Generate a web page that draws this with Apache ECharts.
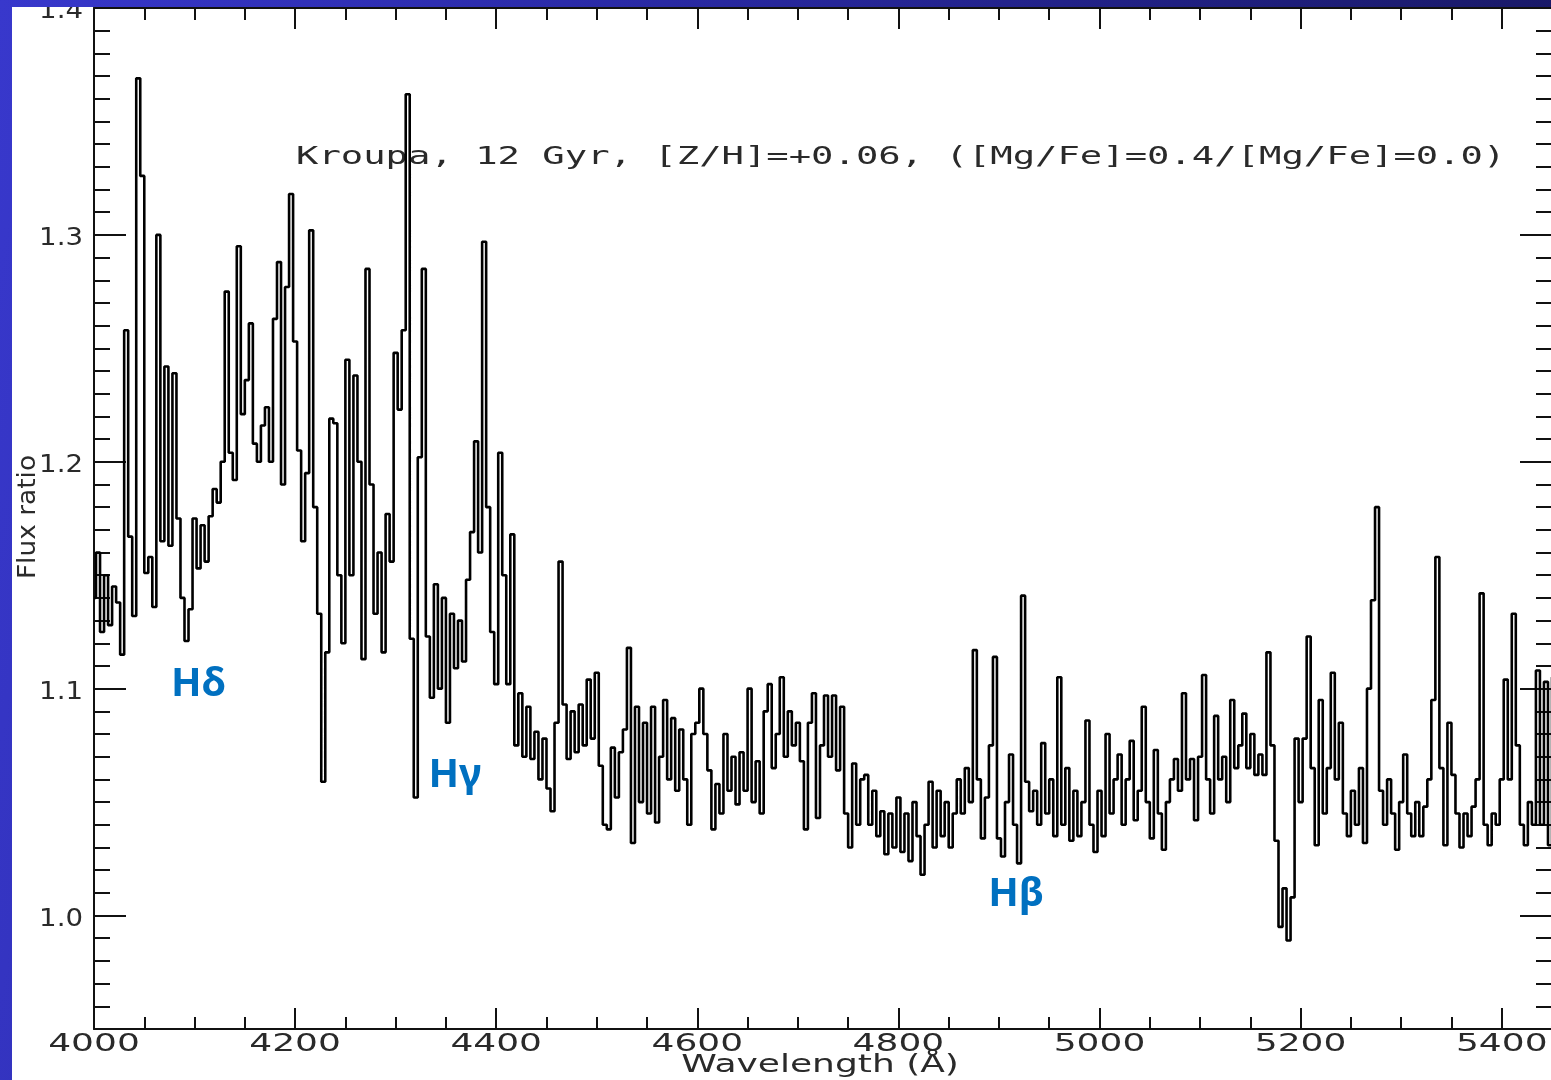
<!DOCTYPE html>
<html>
<head>
<meta charset="utf-8">
<title>Flux ratio</title>
<script src="https://cdn.jsdelivr.net/npm/echarts@6/dist/echarts.min.js"></script>
<style>
  html, body {
    margin: 0; padding: 0; width: 1551px; height: 1080px; overflow: hidden;
    background: linear-gradient(100deg, #3838cc 0%, #2a2aa6 35%, #16165c 100%);
  }
  #chart { position: absolute; left: 12px; top: 7px; width: 1560px; height: 1073px; background: #fff; }
</style>
</head>
<body>
<div id="chart"></div>
<script>
// flux ratio, one value every 4 A from 4000 A
const waveStart = 4000;
const waveStep = 4;
const fluxRatio = [
  1.140, 1.160, 1.125, 1.150, 1.128, 1.145, 1.138, 1.115, 1.258, 1.167, // 4000
  1.132, 1.369, 1.326, 1.151, 1.158, 1.136, 1.300, 1.165, 1.242, 1.163, // 4040
  1.239, 1.175, 1.140, 1.121, 1.135, 1.175, 1.153, 1.172, 1.156, 1.176, // 4080
  1.188, 1.182, 1.200, 1.275, 1.204, 1.192, 1.295, 1.221, 1.236, 1.261, // 4120
  1.208, 1.200, 1.216, 1.224, 1.200, 1.263, 1.288, 1.190, 1.277, 1.318, // 4160
  1.253, 1.205, 1.165, 1.195, 1.302, 1.180, 1.133, 1.059, 1.116, 1.219, // 4200
  1.217, 1.150, 1.120, 1.245, 1.150, 1.238, 1.200, 1.113, 1.285, 1.190, // 4240
  1.133, 1.160, 1.116, 1.177, 1.156, 1.248, 1.223, 1.258, 1.362, 1.122, // 4280
  1.052, 1.202, 1.285, 1.123, 1.096, 1.146, 1.100, 1.140, 1.085, 1.133, // 4320
  1.109, 1.130, 1.112, 1.148, 1.169, 1.209, 1.160, 1.297, 1.180, 1.125, // 4360
  1.102, 1.204, 1.150, 1.102, 1.168, 1.075, 1.098, 1.070, 1.092, 1.069, // 4400
  1.081, 1.060, 1.078, 1.056, 1.046, 1.085, 1.156, 1.093, 1.069, 1.090, // 4440
  1.072, 1.093, 1.075, 1.104, 1.078, 1.107, 1.066, 1.040, 1.038, 1.074, // 4480
  1.052, 1.072, 1.082, 1.118, 1.032, 1.092, 1.050, 1.085, 1.045, 1.092, // 4520
  1.041, 1.070, 1.095, 1.060, 1.087, 1.055, 1.082, 1.060, 1.040, 1.080, // 4560
  1.085, 1.100, 1.080, 1.064, 1.038, 1.058, 1.045, 1.080, 1.055, 1.070, // 4600
  1.049, 1.072, 1.055, 1.100, 1.050, 1.068, 1.045, 1.090, 1.102, 1.065, // 4640
  1.080, 1.105, 1.070, 1.090, 1.075, 1.085, 1.068, 1.038, 1.085, 1.098, // 4680
  1.043, 1.075, 1.097, 1.070, 1.097, 1.064, 1.092, 1.045, 1.030, 1.067, // 4720
  1.040, 1.060, 1.062, 1.040, 1.055, 1.035, 1.046, 1.027, 1.045, 1.030, // 4760
  1.052, 1.028, 1.045, 1.024, 1.050, 1.035, 1.018, 1.040, 1.059, 1.030, // 4800
  1.055, 1.035, 1.050, 1.030, 1.045, 1.060, 1.045, 1.065, 1.050, 1.117, // 4840
  1.060, 1.034, 1.052, 1.075, 1.114, 1.034, 1.026, 1.050, 1.071, 1.040, // 4880
  1.023, 1.141, 1.059, 1.046, 1.055, 1.040, 1.076, 1.045, 1.060, 1.035, // 4920
  1.105, 1.040, 1.065, 1.033, 1.055, 1.035, 1.050, 1.086, 1.040, 1.028, // 4960
  1.055, 1.035, 1.080, 1.045, 1.060, 1.071, 1.040, 1.060, 1.077, 1.042, // 5000
  1.055, 1.092, 1.050, 1.034, 1.073, 1.045, 1.029, 1.050, 1.060, 1.069, // 5040
  1.055, 1.098, 1.060, 1.069, 1.042, 1.070, 1.106, 1.060, 1.045, 1.088, // 5080
  1.060, 1.070, 1.050, 1.095, 1.065, 1.075, 1.089, 1.065, 1.080, 1.062, // 5120
  1.071, 1.062, 1.116, 1.075, 1.033, 0.995, 1.012, 0.989, 1.008, 1.078, // 5160
  1.050, 1.078, 1.123, 1.065, 1.031, 1.095, 1.045, 1.065, 1.107, 1.060, // 5200
  1.085, 1.045, 1.035, 1.055, 1.040, 1.065, 1.032, 1.100, 1.139, 1.180, // 5240
  1.055, 1.040, 1.060, 1.045, 1.029, 1.050, 1.071, 1.045, 1.035, 1.050, // 5280
  1.035, 1.048, 1.060, 1.095, 1.158, 1.065, 1.031, 1.085, 1.062, 1.045, // 5320
  1.030, 1.045, 1.035, 1.048, 1.060, 1.142, 1.040, 1.031, 1.045, 1.040, // 5360
  1.060, 1.104, 1.060, 1.133, 1.075, 1.040, 1.031, 1.050, 1.040, 1.108, // 5400
  1.040, 1.103, 1.031, 1.105                                              // 5440
];

const xTickLabels = [4000, 4200, 4400, 4600, 4800, 5000, 5200, 5400];
const yTickLabels = [1.0, 1.1, 1.2, 1.3, 1.4];

// Balmer line labels (blue)
const lineNames = ['Hδ', 'Hγ', 'Hβ'];
const lineWave = [4104, 4359, 4917];
const lineFlux = [1.102, 1.0615, 1.0093];

const panelText = 'Kroupa, 12 Gyr, [Z/H]=+0.06, ([Mg/Fe]=0.4/[Mg/Fe]=0.0)';
const xTitle = 'Wavelength (Å)';
const yTitle = 'Flux ratio';

const xMin = 4000, xMax = 5450;
const yMin = 0.95, yMax = 1.4;
const ink = '#111';
const textInk = '#2a2a2a';

const chart = echarts.init(document.getElementById('chart'), null, { renderer: 'canvas' });

const tickStyle = { color: ink, width: 2 };
const xAxisBase = {
  type: 'value', min: xMin, max: xMax, splitLine: { show: false },
  axisLabel: { show: false }, axisLine: { show: false }
};
const yAxisBase = {
  type: 'value', min: yMin, max: yMax, splitLine: { show: false },
  axisLabel: { show: false }, axisLine: { show: false }
};

const option = {
  animation: false,
  backgroundColor: '#fff',
  grid: { left: 82, right: 20, top: 1, bottom: 51 },
  xAxis: [
    { ...xAxisBase, position: 'bottom', interval: 200,
      axisLine: { show: true, lineStyle: tickStyle },
      axisTick: { inside: true, length: 21, lineStyle: tickStyle } },
    { ...xAxisBase, position: 'bottom', interval: 50,
      axisTick: { inside: true, length: 12, lineStyle: tickStyle } },
    { ...xAxisBase, position: 'top', interval: 200,
      axisLine: { show: true, lineStyle: tickStyle },
      axisTick: { inside: true, length: 21, lineStyle: tickStyle } },
    { ...xAxisBase, position: 'top', interval: 50,
      axisTick: { inside: true, length: 12, lineStyle: tickStyle } }
  ],
  yAxis: [
    { ...yAxisBase, position: 'left',
      axisLine: { show: true, lineStyle: tickStyle },
      axisTick: { inside: true, length: 32, lineStyle: tickStyle, customValues: yTickLabels } },
    { ...yAxisBase, position: 'left', interval: 0.01,
      axisTick: { inside: true, length: 16, lineStyle: tickStyle } },
    { ...yAxisBase, position: 'right',
      axisLine: { show: true, lineStyle: tickStyle },
      axisTick: { inside: true, length: 32, lineStyle: tickStyle, customValues: yTickLabels } },
    { ...yAxisBase, position: 'right', interval: 0.01,
      axisTick: { inside: true, length: 16, lineStyle: tickStyle } }
  ],
  series: [
    {
      type: 'line',
      xAxisIndex: 0, yAxisIndex: 0,
      step: 'middle',
      symbol: 'none',
      lineStyle: { color: '#000', width: 2.6 },
      data: fluxRatio.map((f, i) => [waveStart + i * waveStep, f])
    },
    {
      type: 'scatter',
      xAxisIndex: 0, yAxisIndex: 0,
      symbolSize: 1,
      itemStyle: { color: 'transparent', opacity: 1 },
      label: {
        show: true, position: 'inside', formatter: '{b}',
        color: '#0070c0', fontSize: 40, fontWeight: 'bold', fontFamily: 'Noto Sans'
      },
      data: lineNames.map((n, i) => ({ name: n, value: [lineWave[i], lineFlux[i]] }))
    }
  ]
};

chart.setOption(option);

// tick labels and titles drawn as stretched text to mimic the wide plotting font
const labelFont = '24px "DejaVu Sans"';
const texts = [];
xTickLabels.forEach(v => {
  const p = chart.convertToPixel({ xAxisIndex: 0, yAxisIndex: 0 }, [v, yMin]);
  texts.push({
    type: 'text', x: p[0], y: p[1] + 4, scaleX: 1.5, silent: true,
    style: { text: String(v), font: labelFont, fill: textInk, align: 'center', verticalAlign: 'top' }
  });
});
yTickLabels.forEach(v => {
  const p = chart.convertToPixel({ xAxisIndex: 0, yAxisIndex: 0 }, [xMin, v]);
  texts.push({
    type: 'text', x: p[0] - 11, y: p[1] + 4, scaleX: 1.15, silent: true,
    style: { text: v.toFixed(1), font: labelFont, fill: textInk, align: 'right', verticalAlign: 'middle' }
  });
});
texts.push({
  type: 'text', x: 808, y: 1059, scaleX: 1.5, silent: true,
  style: { text: xTitle, font: labelFont, fill: textInk, align: 'center', verticalAlign: 'middle' }
});
texts.push({
  type: 'text', x: 17, y: 510, rotation: Math.PI / 2, scaleX: 1.1, silent: true,
  style: { text: yTitle, font: labelFont, fill: textInk, align: 'center', verticalAlign: 'middle' }
});
texts.push({
  type: 'text', x: 284, y: 151, scaleX: 1.55, silent: true,
  style: { text: panelText, font: '24px "DejaVu Sans Mono"', fill: textInk, align: 'left', verticalAlign: 'middle' }
});
chart.setOption({ graphic: texts });
</script>
</body>
</html>
